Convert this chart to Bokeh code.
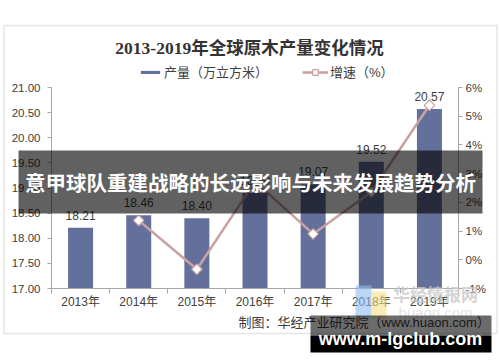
import math
from bokeh.plotting import figure
from bokeh.models import (Range1d, LinearAxis, FixedTicker, PrintfTickFormatter,
                          CustomJSTickFormatter, ColumnDataSource, Label, BoxAnnotation,
                          Legend, LegendItem)
from bokeh.core.properties import value
from bokeh.embed import file_html
from bokeh.resources import INLINE

# ---------------- data ----------------
years = ["2013年", "2014年", "2015年", "2016年", "2017年", "2018年", "2019年"]
output = [18.21, 18.46, 18.40, 18.90, 19.07, 19.52, 20.57]          # 产量（万立方米）
growth_years = ["2014年", "2015年", "2016年", "2017年", "2018年", "2019年"]
growth = [1.37, -0.33, 2.72, 0.90, 2.36, 5.38]                       # 增速（%）
left_ticks = [17.0, 17.5, 18.0, 18.5, 19.0, 19.5, 20.0, 20.5, 21.0]
right_ticks = [-1, 0, 1, 2, 3, 4, 5, 6]

title_text = "2013-2019年全球原木产量变化情况"
bar_name = "产量（万立方米）"
line_name = "增速（%）"
source_text = "制图：华经产业研究院（www.huaon.com）"
banner_text = "意甲球队重建战略的长远影响与未来发展趋势分析"
wm_text = "华经情报网"
wm_sub = "huaon.com"
site_text = "www.m-lgclub.com"

# ---------------- layout ----------------
W, H = 500, 362
# plot area in canvas pixels
AX_L, AX_R, AX_T, AX_B = 51, 458, 87, 288
n = len(years)
ymin, ymax = left_ticks[0], left_ticks[-1]
pmin, pmax = right_ticks[0], right_ticks[-1]

kx = (AX_R - AX_L) / n
ky = (AX_B - AX_T) / (ymax - ymin)
kp = (AX_B - AX_T) / (pmax - pmin)
x_range = Range1d(-AX_L / kx, n + (W - AX_R) / kx)
y_range = Range1d(ymin - (H - AX_B) / ky, ymax + AX_T / ky)
p_range = Range1d(pmin - (H - AX_B) / kp, pmax + AX_T / kp)


def sx(X):
    return X


def sy(Y):
    return H - Y


p = figure(width=W, height=H, output_backend="svg", toolbar_location=None,
           x_range=x_range, y_range=y_range, x_axis_type=None, y_axis_type=None,
           min_border=0, min_border_left=0, min_border_right=0,
           min_border_top=0, min_border_bottom=0)
p.outline_line_color = None
p.grid.visible = False
p.background_fill_color = "white"
p.border_fill_color = "white"
p.extra_y_ranges = {"pct": p_range}

xc = [i + 0.5 for i in range(n)]
src = ColumnDataSource(dict(x=xc, v=output, lbl=["%.2f" % v for v in output]))
gsrc = ColumnDataSource(dict(x=[years.index(y) + 0.5 for y in growth_years], g=growth))

AX = "#a6a6a6"
TXT = "#404040"
SANS = "Liberation Sans, Noto Sans CJK SC"

# axes (fixed at the plot-area edges)
xa = LinearAxis(fixed_location=ymin, bounds=(0, n),
                ticker=FixedTicker(ticks=xc, minor_ticks=list(range(n + 1))),
                formatter=CustomJSTickFormatter(args=dict(labels=years),
                                                code="return labels[Math.floor(tick)]"))
xa.axis_line_color = AX
xa.major_tick_line_color = None
xa.major_tick_out = 0
xa.major_tick_in = 0
xa.minor_tick_line_color = AX
xa.minor_tick_out = 5
xa.minor_tick_in = 0
xa.major_label_standoff = 1
xa.major_label_text_font = SANS
xa.major_label_text_font_size = "12px"
xa.major_label_text_color = TXT
p.add_layout(xa, "below")

ya = LinearAxis(fixed_location=0, bounds=(ymin, ymax),
                ticker=FixedTicker(ticks=left_ticks, minor_ticks=[]),
                formatter=PrintfTickFormatter(format="%.2f"))
ya.axis_line_color = AX
ya.major_tick_line_color = AX
ya.major_tick_out = 4
ya.major_tick_in = 0
ya.minor_tick_line_color = None
ya.major_label_standoff = 7
ya.major_label_text_font = SANS
ya.major_label_text_font_size = "11.5px"
ya.major_label_text_color = TXT
p.add_layout(ya, "left")

ra = LinearAxis(y_range_name="pct", fixed_location=n, bounds=(pmin, pmax),
                ticker=FixedTicker(ticks=right_ticks, minor_ticks=[]),
                formatter=PrintfTickFormatter(format="%d%%"))
ra.axis_line_color = AX
ra.major_tick_line_color = AX
ra.major_tick_out = 4
ra.major_tick_in = 0
ra.minor_tick_line_color = None
ra.major_label_standoff = 3
ra.major_label_text_font = SANS
ra.major_label_text_font_size = "11.5px"
ra.major_label_text_color = TXT
p.add_layout(ra, "right")

# bars
bars = p.vbar(x="x", top="v", bottom=ymin, width=0.43, source=src,
              fill_color="#64709c", line_color=None)
p.text(x="x", y="v", text="lbl", source=src, text_align="center", text_baseline="bottom",
       y_offset=-8, text_font=value(SANS), text_font_size="12px", text_color=TXT)

# growth line
LC = "#c9a1a1"
line_r = p.line(x="x", y="g", source=gsrc, y_range_name="pct", line_color=LC, line_width=2.5)
mark_r = p.scatter(x="x", y="g", source=gsrc, y_range_name="pct", marker="square",
                   angle=math.pi / 4, size=7.5, fill_color="white", line_color=LC, line_width=1.2)


def box(l, r, t, b, **kw):
    return BoxAnnotation(left=sx(l), right=sx(r), top=sy(t), bottom=sy(b),
                         left_units="screen", right_units="screen",
                         top_units="screen", bottom_units="screen", **kw)


def lab(X, Y, text, **kw):
    return Label(x=sx(X), y=sy(Y), x_units="screen", y_units="screen", text=text,
                 text_baseline="middle", **kw)


# outer frame
p.add_layout(box(3.5, 496.5, 25, 333, fill_alpha=0, line_color="#a8a8a8", line_width=1.5))

# title
p.add_layout(lab(249, 47, title_text, text_align="center",
                 text_font="Liberation Serif, Noto Sans CJK SC",
                 text_font_style="bold", text_font_size="17.5px", text_color="#333333"))

# legends
leg1 = Legend(items=[LegendItem(label=bar_name, renderers=[bars])],
              location=(sx(138), sy(81)), orientation="horizontal",
              glyph_width=24, glyph_height=4, label_standoff=2, padding=0, margin=0,
              border_line_color=None, background_fill_alpha=0,
              label_text_font=SANS, label_text_font_size="13px", label_text_color=TXT)
leg2 = Legend(items=[LegendItem(label=line_name, renderers=[line_r, mark_r])],
              location=(sx(302), sy(81)), orientation="horizontal",
              glyph_width=26, glyph_height=14, label_standoff=2, padding=0, margin=0,
              border_line_color=None, background_fill_alpha=0,
              label_text_font=SANS, label_text_font_size="13px", label_text_color=TXT)
p.add_layout(leg1)
p.add_layout(leg2)

# source note
p.add_layout(lab(238, 322, source_text, text_align="left", text_font=SANS,
                 text_font_size="13px", text_color=TXT))

# watermark
p.add_layout(box(355, 371, 285, 317, fill_color="#8fbaf0", fill_alpha=0.6, line_color=None))
p.add_layout(box(371, 386, 291, 318, fill_color="#f5e08a", fill_alpha=0.6, line_color=None))
p.add_layout(lab(435, 293, wm_text, text_align="center", text_font="Noto Sans CJK SC",
                 text_font_style="bold", text_font_size="17px", text_color="#c8c8c8",
                 text_alpha=0.8))
p.add_layout(lab(435, 312, wm_sub, text_align="center", text_font="Liberation Sans",
                 text_font_size="15px", text_color="#dddddd", text_alpha=0.8))

# banner overlay
p.add_layout(box(18, 482, 150, 213, fill_color="black", fill_alpha=0.62, line_color=None))
p.add_layout(lab(250, 181, banner_text, text_align="center", text_font="Noto Sans CJK SC",
                 text_font_style="bold", text_font_size="20.5px", text_color="white"))

# site box
p.add_layout(box(310, 491, 315, 335, fill_color="black", fill_alpha=0.58, line_color=None))
p.add_layout(box(310, 491, 335, 352, fill_color="black", fill_alpha=1.0, line_color=None))
p.add_layout(lab(400, 338, site_text, text_align="center", text_font="Liberation Sans",
                 text_font_style="bold", text_font_size="18px", text_color="white"))

open("out.html", "w").write(file_html(p, INLINE))
